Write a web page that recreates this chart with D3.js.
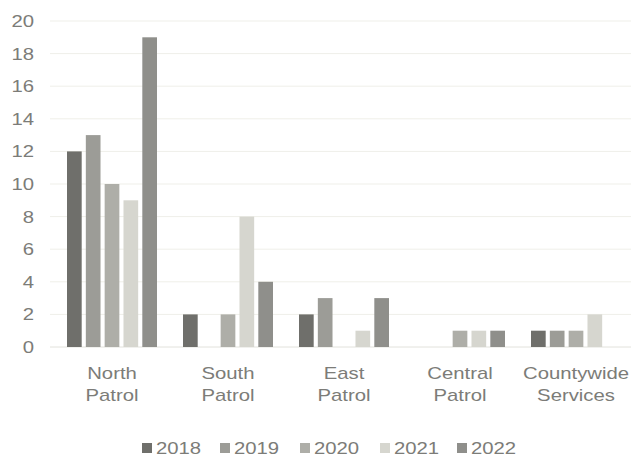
<!DOCTYPE html>
<html>
<head>
<meta charset="utf-8">
<script src="https://cdn.jsdelivr.net/npm/d3@7"></script>
<style>
  html, body { margin: 0; padding: 0; background: #ffffff; }
  svg { display: block; }
  text { font-family: "Liberation Sans", Arial, sans-serif; fill: #7c7c78; font-size: 16px; }
</style>
</head>
<body>
<svg id="chart" width="631" height="457"></svg>
<script>
const categories = [["North", "Patrol"], ["South", "Patrol"], ["East", "Patrol"], ["Central", "Patrol"], ["Countywide", "Services"]];
const years = ["2018", "2019", "2020", "2021", "2022"];
const values2018 = [12, 2, 2, 0, 1];
const values2019 = [13, 0, 3, 0, 1];
const values2020 = [10, 2, 0, 1, 1];
const values2021 = [9, 8, 1, 1, 2];
const values2022 = [19, 4, 3, 1, 0];
const yTicks = [0, 2, 4, 6, 8, 10, 12, 14, 16, 18, 20];
const colors = ["#6f6f6b", "#9c9c97", "#aeaea8", "#d6d6cf", "#8f8f8b"];

const series = [values2018, values2019, values2020, values2021, values2022];
const catKeys = categories.map(c => c.join(" "));
const stretch = 1.27;

const svg = d3.select("#chart");
const plotLeft = 54, plotRight = 634, plotTop = 21, plotBottom = 347;

const x0 = d3.scaleBand().domain(catKeys).range([plotLeft, plotRight])
  .paddingInner(26 / 116).paddingOuter(13 / 116);
const x1 = d3.scaleBand().domain(years).range([0, x0.bandwidth()]).paddingInner(0.22);
const y = d3.scaleLinear().domain([0, 20]).range([plotBottom, plotTop]);

// gridlines
svg.append("g").selectAll("line").data(yTicks).join("line")
  .attr("x1", 50).attr("x2", 631)
  .attr("y1", d => y(d)).attr("y2", d => y(d))
  .attr("stroke", d => d === 0 ? "#e2e2dc" : "#efefe9").attr("stroke-width", 1);

// y axis labels
svg.append("g").selectAll("text").data(yTicks).join("text")
  .attr("transform", d => `translate(34,${y(d) + 6}) scale(${stretch},1)`)
  .attr("text-anchor", "end")
  .text(d => d);

// bars
const groups = svg.append("g").selectAll("g").data(catKeys).join("g")
  .attr("transform", d => `translate(${x0(d)},0)`);
groups.selectAll("rect")
  .data((d, i) => years.map((yr, j) => ({ yr, j, v: series[j][i] })))
  .join("rect")
  .attr("x", d => x1(d.yr))
  .attr("width", x1.bandwidth())
  .attr("y", d => y(d.v))
  .attr("height", d => y(0) - y(d.v))
  .attr("fill", d => colors[d.j]);

// category labels
const xl = svg.append("g").selectAll("text").data(categories).join("text")
  .attr("transform", (d, i) => `translate(${x0(catKeys[i]) + x0.bandwidth() / 2},379) scale(${stretch},1)`)
  .attr("text-anchor", "middle");
xl.selectAll("tspan").data(d => d).join("tspan")
  .attr("x", 0)
  .attr("dy", (d, i) => i === 0 ? 0 : 22)
  .text(d => d);

// legend
const legendX = [142, 220, 300, 380, 457];
const lg = svg.append("g").selectAll("g").data(years).join("g")
  .attr("transform", (d, i) => `translate(${legendX[i]},448)`);
lg.append("rect").attr("x", 0).attr("y", -5).attr("width", 10).attr("height", 10)
  .attr("fill", (d, i) => colors[i]);
lg.append("text")
  .attr("transform", `translate(14,6) scale(${stretch},1)`)
  .text(d => d);
</script>
</body>
</html>
